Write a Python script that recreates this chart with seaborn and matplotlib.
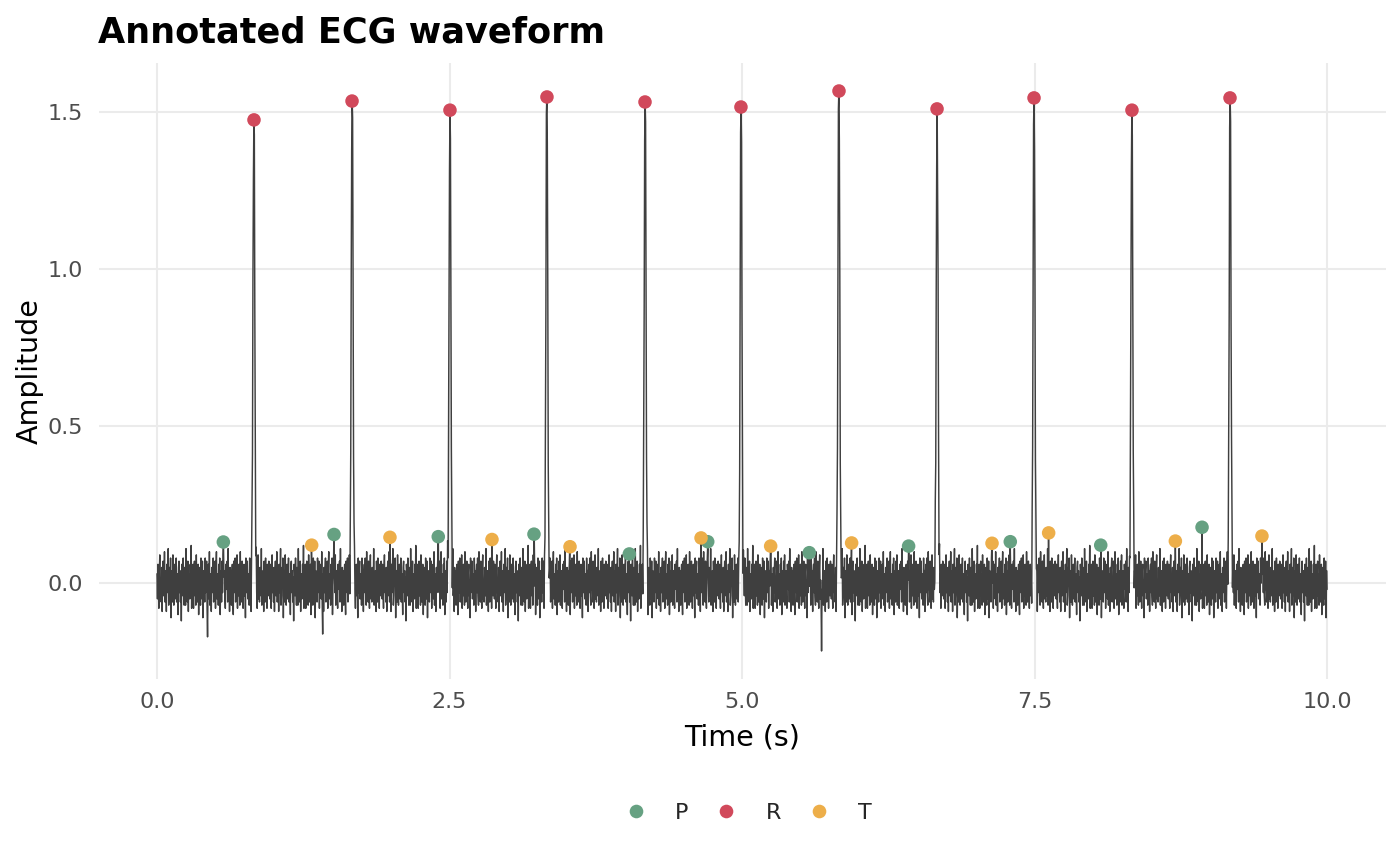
import numpy as np
import pandas as pd
import matplotlib
matplotlib.use("Agg")
import matplotlib.pyplot as plt
from matplotlib.lines import Line2D
import seaborn as sns

# sampling of the trace
fs = 250
duration = 10

# annotated wave points (seconds, amplitude)
p_time = [0.567, 1.513, 2.404, 3.222, 4.037, 4.707, 5.575, 6.424, 7.293, 8.066, 8.932]
p_amp = [0.131, 0.155, 0.148, 0.156, 0.093, 0.132, 0.097, 0.118, 0.132, 0.121, 0.178]
r_time = [0.829, 1.667, 2.504, 3.333, 4.171, 4.991, 5.829, 6.667, 7.496, 8.333, 9.171]
r_amp = [1.475, 1.535, 1.506, 1.548, 1.532, 1.516, 1.567, 1.510, 1.545, 1.506, 1.545]
t_time = [1.322, 1.991, 2.863, 3.530, 4.650, 5.245, 5.937, 7.137, 7.621, 8.704, 9.444]
t_amp = [0.121, 0.146, 0.139, 0.116, 0.144, 0.118, 0.128, 0.127, 0.160, 0.134, 0.150]

# the few deep downward spikes visible in the trace
spike_time = [0.43, 1.416, 5.678]
spike_amp = [-0.171, -0.162, -0.216]

# QRS spike shape around each R sample (relative to R amplitude)
qrs_shape = [0.03, 0.1, 0.3, 0.6, 0.9, 1.0, 0.9, 0.6, 0.3, 0.1, 0.03]

# baseline jitter in hundredths, hand typed, repeated along the trace
noise_cents = [
    3, -5, 6, -2, -8, 4, 9, -3, 1, -6, 5, -9, 2, 7, -4, -1, 10, -6, 0, 4,
    -9, 6, -3, 2, 11, -7, -4, 5, -1, 8, -11, 3, 4, -6, 9, -2, -7, 1, 6, -5,
    0, 8, -6, 3, -2, -10, 5, 7, -3, 4, -6, 2, -12, 6, 3, -4, 8, -1, -7, 5,
    4, -7, 11, -3, 1, -6, 7, -9, 3, 0, -5, 6, -2, 12, -8, 4, -3, 6, -8, 2,
    7, -4, 3, -7, 9, -1, -6, 4, 6, -10, 2, 5, -3, -7, 8, 2, -5, 7, -11, 4,
    -2, 3, -6, 8, -3, 0, 7, -8, 4, -1, 6, -5, 10, -7, 1, 3, -9, 5, -3, 4,
    8, -6, 2, -3, 7, -8, 4, 10, -5, -1, 3, -7, 6, -2, 8, -10, 0, 4, -6, 7,
    -3, 9, -7, 2, 4, -4, -8, 6, 3, -2, 7, -6, 11, -4, 1, -9, 5, -3, 4, -7,
    3, 6, -4, -10, 7, 1, -3, 8, -6, 4, -1, 9, -8, 3, -4, 6, 0, -7, 10, -3,
    -6, 4, 7, -2, -8, 3, 6, -4, 1, -11, 8, -3, 4, 7, -5, -1, 3, -7, 8, 0,
    4, -9, 3, 6, -3, 8, -4, -7, 10, -2, 2, -6, 7, -3, -8, 4, 9, -5, 1, -6,
    5, -2, -4, 11, -7, 3, -3, 4, -9, 7, 1, -6, 8, -3, 3, -8, 6, 0, -4, 7,
]

wave_colors = {"P": "#66a182", "R": "#d1495b", "T": "#edae49"}

# build the trace
time = np.arange(duration * fs + 1) / fs
signal = np.resize(np.array(noise_cents) / 100, time.size)
half = len(qrs_shape) // 2
for tr, ar in zip(r_time, r_amp):
    i = int(round(tr * fs))
    signal[i - half:i + half + 1] += np.array(qrs_shape) * ar
    signal[i] = ar
for times, amps in [(p_time, p_amp), (t_time, t_amp), (spike_time, spike_amp)]:
    for tt, aa in zip(times, amps):
        signal[int(round(tt * fs))] = aa

ecg = pd.DataFrame({"time": time, "amplitude": signal})
marks = pd.DataFrame({
    "time": p_time + r_time + t_time,
    "amplitude": p_amp + r_amp + t_amp,
    "wave": ["P"] * len(p_time) + ["R"] * len(r_time) + ["T"] * len(t_time),
})

sns.set_style("white")
plt.rcParams["font.family"] = ["DejaVu Sans"]

fig = plt.figure(figsize=(14, 8.66), dpi=100)
ax = fig.add_axes([98.5 / 1400, 1 - 679 / 866, 1287 / 1400, 616 / 866])

sns.lineplot(data=ecg, x="time", y="amplitude", color="#3f3f3f", linewidth=1.05,
             estimator=None, ax=ax)
sns.scatterplot(data=marks, x="time", y="amplitude", hue="wave", palette=wave_colors,
                hue_order=["P", "R", "T"], s=95, linewidth=0, legend=False, zorder=3, ax=ax)

# ggplot minimal look
for sp in ax.spines.values():
    sp.set_visible(False)
ax.grid(True, color="#ebebeb", linewidth=1.5)
ax.set_axisbelow(True)
ax.set_xticks([0, 2.5, 5, 7.5, 10])
ax.set_xticklabels(["0.0", "2.5", "5.0", "7.5", "10.0"])
ax.set_yticks([0, 0.5, 1.0, 1.5])
ax.set_yticklabels(["0.0", "0.5", "1.0", "1.5"])
ax.tick_params(axis="both", length=0, labelsize=16, labelcolor="#4d4d4d")
ax.tick_params(axis="x", pad=9.5)
ax.tick_params(axis="y", pad=11)

ax.set_xlabel("Time (s)", fontsize=20.5, color="black")
ax.set_ylabel("Amplitude", fontsize=20.5, color="black")
ax.xaxis.set_label_coords(0.5, -0.0719)
ax.yaxis.set_label_coords(-0.0428, 0.5)
ax.set_title("Annotated ECG waveform", loc="left", fontsize=25.3, fontweight="bold",
             color="black", pad=15)

handles = [Line2D([], [], marker="o", linestyle="", markersize=9.8,
                  markerfacecolor=c, markeredgewidth=0) for c in wave_colors.values()]
ax.legend(handles, list(wave_colors.keys()), loc="center", bbox_to_anchor=(0.505, -0.2175),
          ncol=3, frameon=False, fontsize=16, handlelength=1.0, handletextpad=1.27,
          columnspacing=1.2)

fig.savefig("out.png", dpi=100)
